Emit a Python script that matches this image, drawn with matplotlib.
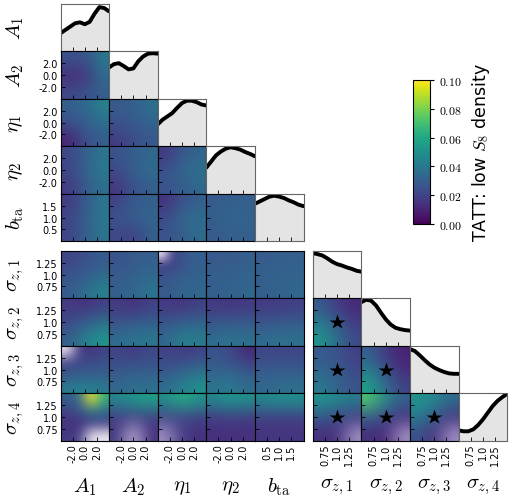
import matplotlib
matplotlib.use("Agg")
import matplotlib.pyplot as plt
import numpy as np

nan = np.nan

plt.rcParams["mathtext.fontset"] = "cm"
plt.rcParams["xtick.direction"] = "in"
plt.rcParams["ytick.direction"] = "in"

labels = [r"$A_1$", r"$A_2$", r"$\eta_1$", r"$\eta_2$", r"$b_{\rm ta}$",
          r"$\sigma_{z,1}$", r"$\sigma_{z,2}$", r"$\sigma_{z,3}$", r"$\sigma_{z,4}$"]
ranges = [(-4, 4)] * 4 + [(0, 2)] + [(0.5, 1.5)] * 4
ticks = [[-2, 0, 2]] * 4 + [[0.5, 1.0, 1.5]] + [[0.75, 1.0, 1.25]] * 4
tick_text = [["-2.0", "0.0", "2.0"]] * 4 + [["0.5", "1.0", "1.5"]] + [["0.75", "1.0", "1.25"]] * 4
fiducial_sigma = 1.0

# 1D marginals (relative height in panel)
diag_A1 = [0.38, 0.45, 0.52, 0.59, 0.61, 0.57, 0.62, 0.79, 0.93, 0.91, 0.84]
diag_A2 = [0.66, 0.73, 0.75, 0.69, 0.62, 0.64, 0.79, 0.89, 0.95, 0.96, 0.95]
diag_eta1 = [0.46, 0.56, 0.63, 0.70, 0.81, 0.91, 0.96, 0.96, 0.93, 0.88, 0.86]
diag_eta2 = [0.55, 0.68, 0.81, 0.89, 0.95, 0.98, 0.96, 0.93, 0.88, 0.84, 0.79]
diag_bta = [0.79, 0.84, 0.89, 0.94, 0.96, 0.94, 0.91, 0.86, 0.82, 0.77, 0.74]
diag_sz1 = [0.95, 0.93, 0.90, 0.84, 0.77, 0.72, 0.69, 0.65, 0.62, 0.58, 0.56]
diag_sz2 = [0.92, 0.97, 0.95, 0.85, 0.70, 0.56, 0.45, 0.38, 0.35, 0.33, 0.32]
diag_sz3 = [0.93, 0.89, 0.80, 0.70, 0.61, 0.54, 0.49, 0.45, 0.42, 0.41, 0.41]
diag_sz4 = [0.22, 0.20, 0.20, 0.24, 0.33, 0.45, 0.59, 0.73, 0.84, 0.92, 0.99]
diags = [diag_A1, diag_A2, diag_eta1, diag_eta2, diag_bta,
         diag_sz1, diag_sz2, diag_sz3, diag_sz4]

# 2D densities, one list per row, grids given top row first
dens_A2 = [
    [[0.025, 0.025, 0.040], [0.013, 0.014, 0.036], [0.022, 0.025, 0.030]],
]
dens_eta1 = [
    [[0.030, 0.033, 0.045], [0.025, 0.030, 0.036], [0.010, 0.024, 0.030]],
    [[0.028, 0.030, 0.037], [0.026, 0.028, 0.032], [0.017, 0.024, 0.028]],
]
dens_eta2 = [
    [[0.021, 0.030, 0.039], [0.021, 0.032, 0.041], [0.017, 0.028, 0.036]],
    [[0.025, 0.030, 0.033], [0.022, 0.030, 0.035], [0.016, 0.025, 0.030]],
    [[0.016, 0.028, 0.032], [0.025, 0.033, 0.037], [0.025, 0.030, 0.033]],
]
dens_bta = [
    [[0.017, 0.028, 0.039], [0.020, 0.030, 0.041], [0.020, 0.030, 0.038]],
    [[0.019, 0.028, 0.030], [0.025, 0.030, 0.033], [0.022, 0.019, 0.030]],
    [[0.014, 0.025, 0.030], [0.022, 0.034, 0.035], [0.025, 0.030, 0.035]],
    [[0.028, 0.030, 0.030], [0.030, 0.033, 0.032], [0.028, 0.030, 0.030]],
]
dens_sz1 = [
    [[0.020, 0.024, 0.028], [0.025, 0.028, 0.034], [0.028, 0.036, 0.044]],
    [[0.025, 0.028, 0.030], [0.028, 0.030, 0.033], [0.030, 0.033, 0.039]],
    [[nan, 0.018, 0.026, 0.030, 0.030], [0.018, 0.020, 0.026, 0.029, 0.030],
     [0.024, 0.026, 0.029, 0.030, 0.031], [0.027, 0.029, 0.031, 0.032, 0.032],
     [0.028, 0.030, 0.032, 0.033, 0.033]],
    [[0.027, 0.028, 0.030], [0.030, 0.030, 0.032], [0.030, 0.032, 0.033]],
    [[0.028, 0.030, 0.030], [0.030, 0.032, 0.032], [0.030, 0.032, 0.033]],
]
dens_sz2 = [
    [[0.017, 0.014, 0.019], [0.022, 0.030, 0.036], [0.030, 0.043, 0.052]],
    [[0.017, 0.014, 0.019], [0.025, 0.028, 0.030], [0.035, 0.039, 0.039]],
    [[0.017, 0.015, 0.019], [0.025, 0.030, 0.032], [0.033, 0.044, 0.041]],
    [[0.017, 0.015, 0.017], [0.026, 0.028, 0.028], [0.035, 0.039, 0.036]],
    [[0.017, 0.017, 0.019], [0.026, 0.028, 0.028], [0.035, 0.037, 0.037]],
    [[0.028, 0.017, 0.011], [0.041, 0.028, 0.017], [0.052, 0.035, 0.022]],
]
dens_sz3 = [
    [[nan, 0.018, 0.015, 0.020], [0.018, 0.022, 0.024, 0.026],
     [0.028, 0.030, 0.030, 0.030], [0.040, 0.043, 0.043, 0.040]],
    [[0.020, 0.017, 0.022], [0.026, 0.028, 0.028], [0.033, 0.037, 0.037]],
    [[0.020, 0.017, 0.020], [0.025, 0.030, 0.034], [0.035, 0.044, 0.050]],
    [[0.025, 0.022, 0.011], [0.030, 0.030, 0.025], [0.038, 0.041, 0.035]],
    [[0.021, 0.021, 0.021], [0.028, 0.028, 0.028], [0.033, 0.036, 0.036]],
    [[0.028, 0.025, 0.018], [0.032, 0.028, 0.022], [0.041, 0.032, 0.025]],
    [[0.030, 0.017, 0.009], [0.041, 0.025, 0.012], [0.057, 0.035, 0.020]],
]
dens_sz4 = [
    [[0.028, 0.036, 0.100, 0.062], [0.020, 0.025, 0.040, 0.035],
     [0.014, 0.014, 0.018, 0.018], [0.017, 0.019, nan, nan]],
    [[0.046, 0.052, 0.057], [0.017, 0.019, 0.019], [0.017, nan, 0.014]],
    [[0.049, 0.062, 0.051], [0.019, 0.021, 0.019], [nan, 0.017, 0.014]],
    [[0.046, 0.052, 0.049], [0.017, 0.019, 0.017], [0.014, 0.014, 0.014]],
    [[0.046, 0.049, 0.049], [0.019, 0.019, 0.019], [0.015, 0.015, 0.015]],
    [[0.050, 0.046, 0.041], [0.028, 0.022, 0.017], [0.014, 0.014, nan]],
    [[0.072, 0.046, 0.030], [0.030, 0.021, 0.014], [0.014, 0.011, nan]],
    [[0.052, 0.046, 0.035], [0.041, 0.028, 0.014], [0.025, 0.014, nan]],
]
dens = [None, dens_A2, dens_eta1, dens_eta2, dens_bta,
        dens_sz1, dens_sz2, dens_sz3, dens_sz4]
faint_patches = [(8, 2), (8, 5), (8, 6), (8, 7)]
medium_patches = [(8, 1)]

cmap_strong = plt.get_cmap("viridis").with_extremes(bad="#ece4f0")
cmap_medium = plt.get_cmap("viridis").with_extremes(bad="#c3b4d8")
cmap_faint = plt.get_cmap("viridis").with_extremes(bad="#9f8fc2")

W, H = 514, 502
fig = plt.figure(figsize=(W / 100, H / 100), dpi=100)

cw, ch = 48.6, 47.5
col_x = [60.5 + k * cw for k in range(5)] + [312.8 + k * cw for k in range(4)]
row_y = [4.8 + k * ch for k in range(5)] + [251.8 + k * ch for k in range(4)]

n = len(labels)
im = None
for i in range(n):
    for j in range(i + 1):
        ax = fig.add_axes([col_x[j] / W, 1 - (row_y[i] + ch) / H, cw / W, ch / H])
        xlo, xhi = ranges[j]
        ylo, yhi = ranges[i]
        if i == j:
            xs = np.linspace(xlo, xhi, len(diags[i]))
            ax.fill_between(xs, 0, diags[i], color="#e4e4e4", lw=0)
            ax.plot(xs, diags[i], color="k", lw=2.8, solid_capstyle="round")
            ax.set_ylim(0, 1.0)
            ax.set_yticks([])
            for s in ax.spines.values():
                s.set_color("0.4")
        else:
            grid = np.array(dens[i][j], dtype=float)
            if (i, j) in faint_patches:
                cm = cmap_faint
            elif (i, j) in medium_patches:
                cm = cmap_medium
            else:
                cm = cmap_strong
            im = ax.imshow(grid, extent=(xlo, xhi, ylo, yhi), origin="upper",
                           cmap=cm, vmin=0, vmax=0.1, aspect="auto",
                           interpolation="bicubic", interpolation_stage="rgba")
            ax.set_ylim(ylo, yhi)
            ax.set_yticks(ticks[i])
            if i >= 5 and j >= 5:
                ax.plot(fiducial_sigma, fiducial_sigma, marker="*", color="k",
                        ms=11.5, mec="none")
            for s in ax.spines.values():
                s.set_color("k")
        ax.set_xlim(xlo, xhi)
        ax.set_xticks(ticks[j])
        ax.tick_params(length=3, width=0.6, color="k", labelsize=7, pad=2)
        if i == n - 1:
            ax.set_xticklabels(tick_text[j], rotation=90)
            ax.set_xlabel(labels[j], fontsize=15, va="center")
            ax.xaxis.set_label_coords(0.5, -0.95)
        else:
            ax.tick_params(labelbottom=False)
        if j == 0:
            if i != 0:
                ax.set_yticklabels(tick_text[i])
            ax.set_ylabel(labels[i], fontsize=15, ha="center", va="center")
            ax.yaxis.set_label_coords(-0.93, 0.5)
        else:
            ax.tick_params(labelleft=False)

cax = fig.add_axes([413 / W, 1 - 225 / H, 17 / W, 144 / H])
cb = fig.colorbar(im, cax=cax, ticks=[0, 0.02, 0.04, 0.06, 0.08, 0.10])
cb.ax.set_yticklabels([r"$%.2f$" % t for t in [0, 0.02, 0.04, 0.06, 0.08, 0.10]])
cb.ax.tick_params(direction="out", length=3, labelsize=8.5)
cb.set_label(r"TATT: low $S_8$ density", fontsize=12.5, labelpad=6)

fig.savefig("out.png", dpi=100)
